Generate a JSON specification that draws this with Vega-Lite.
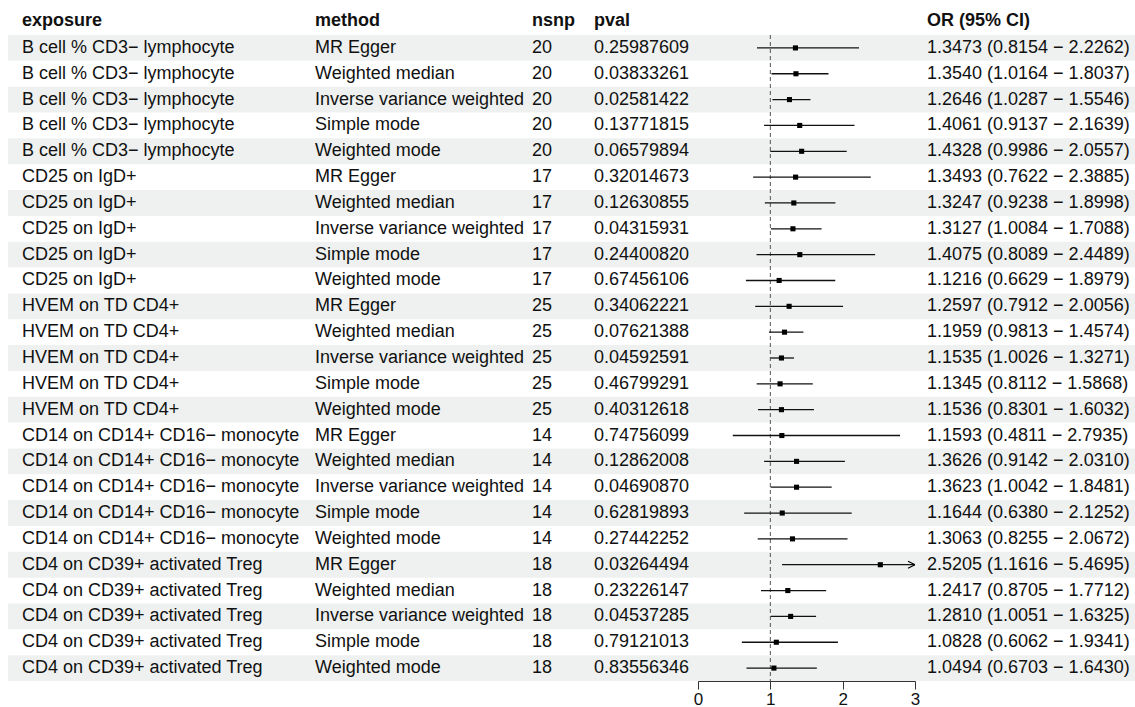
{
  "$schema": "https://vega.github.io/schema/vega-lite/v6.json",
  "padding": {"left": 8, "top": 12, "right": 0, "bottom": 0},
  "background": "white",
  "bounds": "flush",
  "spacing": 0,
  "config": {
    "view": {"stroke": null},
    "font": "Liberation Sans",
    "title": {"fontSize": 18, "fontWeight": "bold", "anchor": "start", "offset": 5, "color": "#111111", "font": "Liberation Sans"},
    "text": {"fontSize": 18, "color": "#111111", "font": "Liberation Sans", "baseline": "middle", "align": "left"}
  },
  "datasets": {
    "rows": [
      {"id": 1, "exposure": "B cell % CD3− lymphocyte", "method": "MR Egger", "nsnp": 20, "pval": "0.25987609", "or": 1.3473, "lo": 0.8154, "hi": 2.2262, "ci": "1.3473 (0.8154 − 2.2262)"},
      {"id": 2, "exposure": "B cell % CD3− lymphocyte", "method": "Weighted median", "nsnp": 20, "pval": "0.03833261", "or": 1.3540, "lo": 1.0164, "hi": 1.8037, "ci": "1.3540 (1.0164 − 1.8037)"},
      {"id": 3, "exposure": "B cell % CD3− lymphocyte", "method": "Inverse variance weighted", "nsnp": 20, "pval": "0.02581422", "or": 1.2646, "lo": 1.0287, "hi": 1.5546, "ci": "1.2646 (1.0287 − 1.5546)"},
      {"id": 4, "exposure": "B cell % CD3− lymphocyte", "method": "Simple mode", "nsnp": 20, "pval": "0.13771815", "or": 1.4061, "lo": 0.9137, "hi": 2.1639, "ci": "1.4061 (0.9137 − 2.1639)"},
      {"id": 5, "exposure": "B cell % CD3− lymphocyte", "method": "Weighted mode", "nsnp": 20, "pval": "0.06579894", "or": 1.4328, "lo": 0.9986, "hi": 2.0557, "ci": "1.4328 (0.9986 − 2.0557)"},
      {"id": 6, "exposure": "CD25 on IgD+", "method": "MR Egger", "nsnp": 17, "pval": "0.32014673", "or": 1.3493, "lo": 0.7622, "hi": 2.3885, "ci": "1.3493 (0.7622 − 2.3885)"},
      {"id": 7, "exposure": "CD25 on IgD+", "method": "Weighted median", "nsnp": 17, "pval": "0.12630855", "or": 1.3247, "lo": 0.9238, "hi": 1.8998, "ci": "1.3247 (0.9238 − 1.8998)"},
      {"id": 8, "exposure": "CD25 on IgD+", "method": "Inverse variance weighted", "nsnp": 17, "pval": "0.04315931", "or": 1.3127, "lo": 1.0084, "hi": 1.7088, "ci": "1.3127 (1.0084 − 1.7088)"},
      {"id": 9, "exposure": "CD25 on IgD+", "method": "Simple mode", "nsnp": 17, "pval": "0.24400820", "or": 1.4075, "lo": 0.8089, "hi": 2.4489, "ci": "1.4075 (0.8089 − 2.4489)"},
      {"id": 10, "exposure": "CD25 on IgD+", "method": "Weighted mode", "nsnp": 17, "pval": "0.67456106", "or": 1.1216, "lo": 0.6629, "hi": 1.8979, "ci": "1.1216 (0.6629 − 1.8979)"},
      {"id": 11, "exposure": "HVEM on TD CD4+", "method": "MR Egger", "nsnp": 25, "pval": "0.34062221", "or": 1.2597, "lo": 0.7912, "hi": 2.0056, "ci": "1.2597 (0.7912 − 2.0056)"},
      {"id": 12, "exposure": "HVEM on TD CD4+", "method": "Weighted median", "nsnp": 25, "pval": "0.07621388", "or": 1.1959, "lo": 0.9813, "hi": 1.4574, "ci": "1.1959 (0.9813 − 1.4574)"},
      {"id": 13, "exposure": "HVEM on TD CD4+", "method": "Inverse variance weighted", "nsnp": 25, "pval": "0.04592591", "or": 1.1535, "lo": 1.0026, "hi": 1.3271, "ci": "1.1535 (1.0026 − 1.3271)"},
      {"id": 14, "exposure": "HVEM on TD CD4+", "method": "Simple mode", "nsnp": 25, "pval": "0.46799291", "or": 1.1345, "lo": 0.8112, "hi": 1.5868, "ci": "1.1345 (0.8112 − 1.5868)"},
      {"id": 15, "exposure": "HVEM on TD CD4+", "method": "Weighted mode", "nsnp": 25, "pval": "0.40312618", "or": 1.1536, "lo": 0.8301, "hi": 1.6032, "ci": "1.1536 (0.8301 − 1.6032)"},
      {"id": 16, "exposure": "CD14 on CD14+ CD16− monocyte", "method": "MR Egger", "nsnp": 14, "pval": "0.74756099", "or": 1.1593, "lo": 0.4811, "hi": 2.7935, "ci": "1.1593 (0.4811 − 2.7935)"},
      {"id": 17, "exposure": "CD14 on CD14+ CD16− monocyte", "method": "Weighted median", "nsnp": 14, "pval": "0.12862008", "or": 1.3626, "lo": 0.9142, "hi": 2.0310, "ci": "1.3626 (0.9142 − 2.0310)"},
      {"id": 18, "exposure": "CD14 on CD14+ CD16− monocyte", "method": "Inverse variance weighted", "nsnp": 14, "pval": "0.04690870", "or": 1.3623, "lo": 1.0042, "hi": 1.8481, "ci": "1.3623 (1.0042 − 1.8481)"},
      {"id": 19, "exposure": "CD14 on CD14+ CD16− monocyte", "method": "Simple mode", "nsnp": 14, "pval": "0.62819893", "or": 1.1644, "lo": 0.6380, "hi": 2.1252, "ci": "1.1644 (0.6380 − 2.1252)"},
      {"id": 20, "exposure": "CD14 on CD14+ CD16− monocyte", "method": "Weighted mode", "nsnp": 14, "pval": "0.27442252", "or": 1.3063, "lo": 0.8255, "hi": 2.0672, "ci": "1.3063 (0.8255 − 2.0672)"},
      {"id": 21, "exposure": "CD4 on CD39+ activated Treg", "method": "MR Egger", "nsnp": 18, "pval": "0.03264494", "or": 2.5205, "lo": 1.1616, "hi": 5.4695, "ci": "2.5205 (1.1616 − 5.4695)"},
      {"id": 22, "exposure": "CD4 on CD39+ activated Treg", "method": "Weighted median", "nsnp": 18, "pval": "0.23226147", "or": 1.2417, "lo": 0.8705, "hi": 1.7712, "ci": "1.2417 (0.8705 − 1.7712)"},
      {"id": 23, "exposure": "CD4 on CD39+ activated Treg", "method": "Inverse variance weighted", "nsnp": 18, "pval": "0.04537285", "or": 1.2810, "lo": 1.0051, "hi": 1.6325, "ci": "1.2810 (1.0051 − 1.6325)"},
      {"id": 24, "exposure": "CD4 on CD39+ activated Treg", "method": "Simple mode", "nsnp": 18, "pval": "0.79121013", "or": 1.0828, "lo": 0.6062, "hi": 1.9341, "ci": "1.0828 (0.6062 − 1.9341)"},
      {"id": 25, "exposure": "CD4 on CD39+ activated Treg", "method": "Weighted mode", "nsnp": 18, "pval": "0.83556346", "or": 1.0494, "lo": 0.6703, "hi": 1.6430, "ci": "1.0494 (0.6703 − 1.6430)"}
    ]
  },
  "hconcat": [
    {
      "width": 307, "height": 646,
      "data": {"name": "rows"},
      "title": {"text": "exposure", "dx": 14},
      "layer": [
        {"transform": [{"filter": "datum.id % 2 == 1"}], "mark": {"type": "rect", "color": "#eff1f0"},
         "encoding": {"y": {"field": "id", "type": "ordinal", "axis": null, "scale": {"paddingInner": 0, "paddingOuter": 0}}}},
        {"mark": {"type": "text", "dx": 14},
         "encoding": {"y": {"field": "id", "type": "ordinal", "axis": null},
                      "x": {"datum": 0, "type": "quantitative", "scale": {"domain": [0, 1]}, "axis": null},
                      "text": {"field": "exposure"}}}
      ]
    },
    {
      "width": 217, "height": 646,
      "data": {"name": "rows"},
      "title": {"text": "method"},
      "layer": [
        {"transform": [{"filter": "datum.id % 2 == 1"}], "mark": {"type": "rect", "color": "#eff1f0"},
         "encoding": {"y": {"field": "id", "type": "ordinal", "axis": null, "scale": {"paddingInner": 0, "paddingOuter": 0}}}},
        {"mark": {"type": "text"},
         "encoding": {"y": {"field": "id", "type": "ordinal", "axis": null},
                      "x": {"datum": 0, "type": "quantitative", "scale": {"domain": [0, 1]}, "axis": null},
                      "text": {"field": "method"}}}
      ]
    },
    {
      "width": 62, "height": 646,
      "data": {"name": "rows"},
      "title": {"text": "nsnp"},
      "layer": [
        {"transform": [{"filter": "datum.id % 2 == 1"}], "mark": {"type": "rect", "color": "#eff1f0"},
         "encoding": {"y": {"field": "id", "type": "ordinal", "axis": null, "scale": {"paddingInner": 0, "paddingOuter": 0}}}},
        {"mark": {"type": "text"},
         "encoding": {"y": {"field": "id", "type": "ordinal", "axis": null},
                      "x": {"datum": 0, "type": "quantitative", "scale": {"domain": [0, 1]}, "axis": null},
                      "text": {"field": "nsnp"}}}
      ]
    },
    {
      "width": 104, "height": 646,
      "data": {"name": "rows"},
      "title": {"text": "pval"},
      "layer": [
        {"transform": [{"filter": "datum.id % 2 == 1"}], "mark": {"type": "rect", "color": "#eff1f0"},
         "encoding": {"y": {"field": "id", "type": "ordinal", "axis": null, "scale": {"paddingInner": 0, "paddingOuter": 0}}}},
        {"mark": {"type": "text"},
         "encoding": {"y": {"field": "id", "type": "ordinal", "axis": null},
                      "x": {"datum": 0, "type": "quantitative", "scale": {"domain": [0, 1]}, "axis": null},
                      "text": {"field": "pval"}}}
      ]
    },
    {
      "width": 217, "height": 646,
      "data": {"name": "rows"},
      "layer": [
        {"transform": [{"filter": "datum.id % 2 == 1"}], "mark": {"type": "rect", "color": "#eff1f0"},
         "encoding": {"y": {"field": "id", "type": "ordinal", "axis": null, "scale": {"paddingInner": 0, "paddingOuter": 0}}}},
        {"data": {"values": [{"ref": 1}]},
         "mark": {"type": "rule", "color": "#555555", "strokeDash": [4, 3], "strokeWidth": 1},
         "encoding": {"x": {"field": "ref", "type": "quantitative"}}},
        {"mark": {"type": "rule", "clip": true, "color": "#111111", "strokeWidth": 1.3},
         "encoding": {
           "y": {"field": "id", "type": "ordinal", "axis": null},
           "x": {"field": "lo", "type": "quantitative",
                 "scale": {"domain": [0, 3], "nice": false, "zero": false},
                 "axis": {"values": [0, 1, 2, 3], "title": null, "grid": false, "format": "d",
                          "domainColor": "#333333", "tickColor": "#333333", "tickSize": 8,
                          "labelFontSize": 17, "labelColor": "#111111", "labelPadding": 2,
                          "labelFont": "Liberation Sans", "labelFlush": false}},
           "x2": {"field": "hi"}}},
        {"mark": {"type": "point", "shape": "square", "filled": true, "size": 26, "color": "black", "opacity": 1},
         "encoding": {
           "y": {"field": "id", "type": "ordinal", "axis": null},
           "x": {"field": "or", "type": "quantitative"}}},
        {"transform": [{"filter": "datum.hi > 3"}],
         "mark": {"type": "point", "shape": "M-1,-0.5L0,0L-1,0.5", "filled": false, "size": 196, "color": "black", "strokeWidth": 1.2, "opacity": 1},
         "encoding": {
           "y": {"field": "id", "type": "ordinal", "axis": null},
           "x": {"datum": 3, "type": "quantitative"}}}
      ]
    },
    {
      "width": 220, "height": 646,
      "data": {"name": "rows"},
      "title": {"text": "OR (95% CI)", "dx": 12},
      "layer": [
        {"transform": [{"filter": "datum.id % 2 == 1"}], "mark": {"type": "rect", "color": "#eff1f0"},
         "encoding": {"y": {"field": "id", "type": "ordinal", "axis": null, "scale": {"paddingInner": 0, "paddingOuter": 0}}}},
        {"mark": {"type": "text", "dx": 12},
         "encoding": {"y": {"field": "id", "type": "ordinal", "axis": null},
                      "x": {"datum": 0, "type": "quantitative", "scale": {"domain": [0, 1]}, "axis": null},
                      "text": {"field": "ci"}}}
      ]
    }
  ]
}
